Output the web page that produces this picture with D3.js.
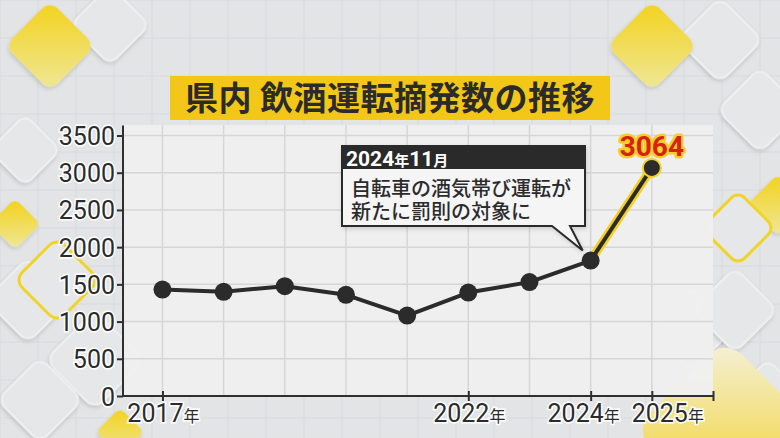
<!DOCTYPE html>
<html>
<head>
<meta charset="utf-8">
<script src="https://cdn.jsdelivr.net/npm/d3@7"></script>
<style>
  body { margin: 0; background: #e3e4e6; }
  svg { display: block; font-family: "Noto Sans CJK JP", "Noto Sans", sans-serif; }
</style>
</head>
<body>
<svg id="vis_chart" width="780" height="438"></svg>
<script>
// data
var years = [2017, 2018, 2019, 2020, 2021, 2022, 2023, 2024, 2025];
var counts = [1430, 1400, 1475, 1360, 1080, 1390, 1530, 1820, 3064];
var yTicks = [0, 500, 1000, 1500, 2000, 2500, 3000, 3500];
var xLabelYears = [2017, 2022, 2024, 2025];
var titleText = "県内 飲酒運転摘発数の推移";
var noteHead = ["2024", "年", "11", "月"];
var noteLines = ["自転車の酒気帯び運転が", "新たに罰則の対象に"];

var FONT = "'Noto Sans CJK JP', 'Noto Sans', sans-serif";
var NUMFONT = "Roboto, 'Noto Sans CJK JP', sans-serif";

function vis_line() {
var svg = d3.select("#vis_chart"),
  width = 780,
  height = 438;

var x = d3.scaleLinear().domain([2016.355, 2026]).range([123, 713]);
var y = d3.scaleLinear().domain([0, 3500]).range([396, 135.5]);

// background grid pattern
var bg = svg.append("g");
bg.append("rect").attr("width", width).attr("height", height).attr("fill", "#e3e4e6");
d3.range(0, width, 38).forEach(function(gx) {
  bg.append("line").attr("x1", gx).attr("x2", gx).attr("y1", 0).attr("y2", height)
    .attr("stroke", "#d9dadd").attr("stroke-width", 1);
});
d3.range(0, height, 38).forEach(function(gy) {
  bg.append("line").attr("y1", gy).attr("y2", gy).attr("x1", 0).attr("x2", width)
    .attr("stroke", "#d9dadd").attr("stroke-width", 1);
});

var defs = svg.append("defs");
var grad = defs.append("linearGradient").attr("id", "yel").attr("x1", 0).attr("y1", 0).attr("x2", 1).attr("y2", 1);
grad.append("stop").attr("offset", "0%").attr("stop-color", "#f3d21a");
grad.append("stop").attr("offset", "100%").attr("stop-color", "#efe79a");
var grad2 = defs.append("linearGradient").attr("id", "yel2").attr("x1", 0).attr("y1", 0).attr("x2", 1).attr("y2", 1);
grad2.append("stop").attr("offset", "0%").attr("stop-color", "#f4f1dc");
grad2.append("stop").attr("offset", "100%").attr("stop-color", "#f2cd12");
var sh = defs.append("filter").attr("id", "shadow").attr("x", "-20%").attr("y", "-20%").attr("width", "140%").attr("height", "140%");
sh.append("feDropShadow").attr("dx", 1).attr("dy", 2).attr("stdDeviation", 2).attr("flood-opacity", 0.15);

// decorative rounded diamonds: [cx, cy, side, kind]
var tiles = [
  [110, 25, 56, "w"], [28, 300, 60, "w"], [95, 360, 70, "w"], [40, 400, 60, "w"],
  [720, 40, 60, "w"], [760, 110, 60, "w"], [690, 330, 60, "w"], [735, 310, 60, "w"],
  [768, 395, 50, "w"], [25, 150, 50, "w"],
  [50, 46, 64, "y"], [652, 46, 64, "y"], [15, 224, 36, "y"], [778, 205, 44, "y"],
  [120, 432, 34, "y"], [725, 430, 130, "y2"],
  [57, 280, 60, "o"], [738, 228, 52, "o"]
];
tiles.forEach(function(t) {
  var s = t[2];
  var g = bg.append("g").attr("transform", "translate(" + t[0] + "," + t[1] + ") rotate(45)");
  var r = g.append("rect").attr("x", -s / 2).attr("y", -s / 2).attr("width", s).attr("height", s)
    .attr("rx", s * 0.18);
  if (t[3] === "w") r.attr("fill", "#e6e7e9").attr("stroke", "#eeeff0").attr("stroke-width", 2).attr("filter", "url(#shadow)");
  else if (t[3] === "y") r.attr("fill", "url(#yel)").attr("filter", "url(#shadow)");
  else if (t[3] === "y2") r.attr("fill", "url(#yel2)");
  else r.attr("fill", "#e6e7e9").attr("stroke", "#f0d42a").attr("stroke-width", 3);
});

// plot panel
svg.append("rect").attr("x", x.range()[0]).attr("y", 125)
  .attr("width", x.range()[1] - x.range()[0]).attr("height", y(0) - 125)
  .attr("fill", "#efefef").attr("opacity", 0.96);

// gridlines
var grid = svg.append("g").attr("stroke", "#d6d6d6").attr("stroke-width", 1.5);
yTicks.slice(1).forEach(function(v) {
  grid.append("line").attr("x1", x.range()[0]).attr("x2", x.range()[1]).attr("y1", y(v)).attr("y2", y(v));
});
years.forEach(function(v) {
  grid.append("line").attr("x1", x(v)).attr("x2", x(v)).attr("y1", 125).attr("y2", y(0));
});

// title
svg.append("rect").attr("x", 170).attr("y", 76).attr("width", 440).attr("height", 44).attr("fill", "#f2c718");
svg.append("text").attr("x", 390).attr("y", 110).attr("text-anchor", "middle")
  .attr("font-family", FONT)
  .attr("font-size", 33).attr("font-weight", 700).attr("fill", "#2b2b2b").attr("letter-spacing", 0.5)
  .text(titleText);

// y axis
var yAxis = svg.append("g").attr("transform", "translate(" + x.range()[0] + ",0)")
  .call(d3.axisLeft(y).tickValues(yTicks).tickSize(6).tickPadding(2).tickFormat(d3.format("d")));
yAxis.select(".domain").attr("stroke", "#2f2f2f").attr("stroke-width", 2)
  .attr("d", "M0," + (y(3500) - 10) + "V" + y(0));
yAxis.selectAll(".tick line").attr("stroke", "#2f2f2f").attr("stroke-width", 2);
yAxis.selectAll(".tick text").attr("font-size", 25).attr("fill", "#2b2b2b")
  .attr("font-family", NUMFONT)
  .attr("stroke", "#ffffff").attr("stroke-width", 3).attr("paint-order", "stroke").attr("dy", "0.36em");

// x axis
var xAxis = svg.append("g").attr("transform", "translate(0," + y(0) + ")")
  .call(d3.axisBottom(x).tickValues(xLabelYears.concat([2026])).tickSize(5).tickFormat(""));
xAxis.select(".domain").attr("stroke", "#2f2f2f").attr("stroke-width", 2).attr("d", "M" + x.range()[0] + ",0H" + x.range()[1]);
xAxis.selectAll(".tick line").attr("stroke", "#2f2f2f").attr("stroke-width", 2).attr("y1", -5).attr("y2", 5);
// the two last labels sit apart from their ticks so they do not collide
var labelNudge = { 2024: -8, 2025: 15 };
xLabelYears.forEach(function(yr) {
  var t = svg.append("text").attr("x", x(yr) + 1 + (labelNudge[yr] || 0)).attr("y", 422).attr("text-anchor", "middle")
    .attr("fill", "#2b2b2b").attr("stroke", "#ffffff").attr("stroke-width", 3).attr("paint-order", "stroke");
  t.append("tspan").attr("font-size", 25).attr("font-family", NUMFONT).text(yr);
  t.append("tspan").attr("font-size", 16).attr("font-family", FONT).text("年");
});

// line
var pts = years.map(function(yr, i) { return [yr, counts[i]]; });
var line = d3.line().x(function(d) { return x(d[0]); }).y(function(d) { return y(d[1]); });
svg.append("path").datum(pts.slice(-2)).attr("d", line).attr("fill", "none")
  .attr("stroke", "#f4d020").attr("stroke-width", 9).attr("stroke-linecap", "round");
svg.append("path").datum(pts).attr("d", line).attr("fill", "none")
  .attr("stroke", "#2b2b2b").attr("stroke-width", 4).attr("stroke-linejoin", "round");
svg.append("g").selectAll("circle").data(pts).enter().append("circle")
  .attr("cx", function(d) { return x(d[0]); }).attr("cy", function(d) { return y(d[1]); })
  .attr("r", 9).attr("fill", "#2b2b2b")
  .attr("stroke", function(d, i) { return i === pts.length - 1 ? "#f4d020" : "none"; })
  .attr("stroke-width", 2);

// value label for last point
var last = pts[pts.length - 1];
svg.append("text").attr("x", x(last[0])).attr("y", y(last[1]) - 12).attr("text-anchor", "middle")
  .attr("font-family", NUMFONT)
  .attr("font-size", 28).attr("font-weight", 700).attr("fill", "#d8220f")
  .attr("stroke", "#f7cf2a").attr("stroke-width", 5).attr("stroke-linejoin", "round").attr("paint-order", "stroke")
  .text(last[1]);

// callout
var cb = svg.append("g").attr("filter", "url(#shadow)");
var bx = 342, by = 146, bw = 243, bh = 80;
cb.append("path")
  .attr("d", "M" + bx + "," + by + "h" + bw + "v" + bh + "H" + 570 + "L" + (x(2024) - 8) + "," + (y(counts[7]) - 10) + "L" + 552 + "," + (by + bh) + "H" + bx + "Z")
  .attr("fill", "#f5f5f5").attr("stroke", "#2a2a2a").attr("stroke-width", 2).attr("stroke-linejoin", "miter");
svg.append("rect").attr("x", bx).attr("y", by).attr("width", bw).attr("height", 23).attr("fill", "#2a2a2a");
var ht = svg.append("text").attr("x", bx + 4).attr("y", by + 20).attr("fill", "#ffffff").attr("font-weight", 700);
noteHead.forEach(function(s, i) {
  ht.append("tspan").attr("font-size", i % 2 === 0 ? 21 : 15)
    .attr("font-family", i % 2 === 0 ? NUMFONT : FONT).text(s);
});
noteLines.forEach(function(s, i) {
  svg.append("text").attr("x", bx + 9).attr("y", 196 + i * 23).attr("font-size", 20)
    .attr("font-family", FONT)
    .attr("font-weight", 500).attr("fill", "#2b2b2b").text(s);
});
}

vis_line();
</script>
</body>
</html>
